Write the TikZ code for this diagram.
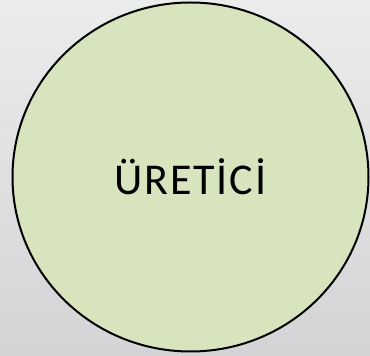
\documentclass[tikz,border=0pt]{standalone}
\usepackage{fontspec}
\setmainfont{Carlito}
\usetikzlibrary{shapes.geometric}
\definecolor{bgtop}{HTML}{EBECEC}
\definecolor{bgbottom}{HTML}{D2D4D5}
\definecolor{leaf}{HTML}{D7E4BD}
\tikzset{
  producer/.style={ellipse, draw=black, line width=2pt, fill=leaf,
    minimum width=356pt, minimum height=349pt, inner sep=0pt,
    font=\fontsize{44}{50}\selectfont\addfontfeature{LetterSpace=4}}
}
\begin{document}
\begin{tikzpicture}[x=1pt,y=1pt]
  % background
  \shade[top color=bgtop, bottom color=bgbottom] (0,0) rectangle (370,356);
  \useasboundingbox (0,0) rectangle (370,356);
  \node[producer] (uretici) at (190.5,179) {ÜRETİCİ};
\end{tikzpicture}
\end{document}
